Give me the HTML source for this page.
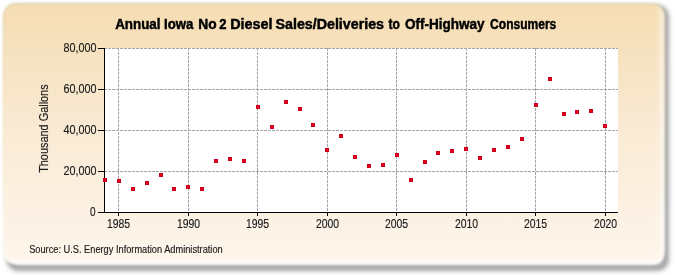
<!DOCTYPE html>
<html><head><meta charset="utf-8"><style>
html,body{margin:0;padding:0;background:#fff;width:675px;height:275px;overflow:hidden}
svg{display:block;will-change:transform}
text{font-family:"Liberation Sans",sans-serif;fill:#1a1a1a;stroke:#1a1a1a;stroke-width:0.15}
</style></head><body>
<svg width="675" height="275" viewBox="0 0 675 275">
<defs>
<linearGradient id="bg" x1="0" y1="0" x2="0" y2="1">
<stop offset="0" stop-color="#F5DDB2"/>
<stop offset="0.45" stop-color="#F9E9D2"/>
<stop offset="1" stop-color="#FEF6EC"/>
</linearGradient>
<linearGradient id="edge" x1="0" y1="0" x2="0" y2="1">
<stop offset="0" stop-color="#E6D6AE"/>
<stop offset="0.3" stop-color="#F5E2C0"/>
<stop offset="1" stop-color="#FFFDF6"/>
</linearGradient>
<filter id="sh" x="-5%" y="-5%" width="110%" height="110%"><feGaussianBlur stdDeviation="2.4"/></filter>
<filter id="soft" x="-2%" y="-2%" width="104%" height="104%"><feGaussianBlur stdDeviation="0.9"/></filter>
<linearGradient id="rb" x1="0" y1="0" x2="1" y2="0">
<stop offset="0" stop-color="#fff" stop-opacity="0"/>
<stop offset="1" stop-color="#fff" stop-opacity="0.55"/>
</linearGradient>
<linearGradient id="bb" x1="0" y1="0" x2="0" y2="1">
<stop offset="0" stop-color="#fff" stop-opacity="0"/>
<stop offset="1" stop-color="#fff" stop-opacity="0.7"/>
</linearGradient>
<clipPath id="cc"><rect x="3.5" y="4" width="660.5" height="259.5" rx="12"/></clipPath>
</defs>
<rect x="10" y="8.5" width="655.5" height="259" rx="8" fill="none" stroke="#959595" stroke-width="6" filter="url(#sh)"/>
<g filter="url(#soft)">
<rect x="3.5" y="4" width="660.5" height="259.5" rx="12" fill="url(#bg)" stroke="url(#edge)" stroke-width="1.5"/>
<g clip-path="url(#cc)"><rect x="656" y="0" width="8" height="270" fill="url(#rb)"/><rect x="0" y="258" width="670" height="6" fill="url(#bb)"/></g>
</g>

<rect x="104" y="48" width="514" height="164" fill="#fff"/>
<g stroke="#A6A6A6" stroke-width="1" stroke-dasharray="3,1" shape-rendering="crispEdges"><line x1="104" y1="48.5" x2="618" y2="48.5"/><line x1="104" y1="89.5" x2="618" y2="89.5"/><line x1="104" y1="130.5" x2="618" y2="130.5"/><line x1="104" y1="171.5" x2="618" y2="171.5"/><line x1="118.5" y1="48" x2="118.5" y2="212"/><line x1="188.5" y1="48" x2="188.5" y2="212"/><line x1="257.5" y1="48" x2="257.5" y2="212"/><line x1="327.5" y1="48" x2="327.5" y2="212"/><line x1="396.5" y1="48" x2="396.5" y2="212"/><line x1="466.5" y1="48" x2="466.5" y2="212"/><line x1="535.5" y1="48" x2="535.5" y2="212"/><line x1="605.5" y1="48" x2="605.5" y2="212"/></g>
<g stroke="#000" stroke-width="1" shape-rendering="crispEdges"><line x1="104.5" y1="48" x2="104.5" y2="213"/><line x1="104" y1="212.5" x2="618" y2="212.5"/><line x1="98" y1="48.5" x2="104" y2="48.5"/><line x1="98" y1="89.5" x2="104" y2="89.5"/><line x1="98" y1="130.5" x2="104" y2="130.5"/><line x1="98" y1="171.5" x2="104" y2="171.5"/><line x1="98" y1="212.5" x2="104" y2="212.5"/><line x1="118.5" y1="212" x2="118.5" y2="216"/><line x1="188.5" y1="212" x2="188.5" y2="216"/><line x1="257.5" y1="212" x2="257.5" y2="216"/><line x1="327.5" y1="212" x2="327.5" y2="216"/><line x1="396.5" y1="212" x2="396.5" y2="216"/><line x1="466.5" y1="212" x2="466.5" y2="216"/><line x1="535.5" y1="212" x2="535.5" y2="216"/><line x1="605.5" y1="212" x2="605.5" y2="216"/></g>
<g fill="#C8001C" shape-rendering="crispEdges"><rect x="103" y="178" width="4" height="4"/><rect x="104" y="179" width="2" height="2" fill="#E8001E"/><rect x="117" y="179" width="4" height="4"/><rect x="118" y="180" width="2" height="2" fill="#E8001E"/><rect x="131" y="187" width="4" height="4"/><rect x="132" y="188" width="2" height="2" fill="#E8001E"/><rect x="145" y="181" width="4" height="4"/><rect x="146" y="182" width="2" height="2" fill="#E8001E"/><rect x="159" y="173" width="4" height="4"/><rect x="160" y="174" width="2" height="2" fill="#E8001E"/><rect x="172" y="187" width="4" height="4"/><rect x="173" y="188" width="2" height="2" fill="#E8001E"/><rect x="186" y="185" width="4" height="4"/><rect x="187" y="186" width="2" height="2" fill="#E8001E"/><rect x="200" y="187" width="4" height="4"/><rect x="201" y="188" width="2" height="2" fill="#E8001E"/><rect x="214" y="159" width="4" height="4"/><rect x="215" y="160" width="2" height="2" fill="#E8001E"/><rect x="228" y="157" width="4" height="4"/><rect x="229" y="158" width="2" height="2" fill="#E8001E"/><rect x="242" y="159" width="4" height="4"/><rect x="243" y="160" width="2" height="2" fill="#E8001E"/><rect x="256" y="105" width="4" height="4"/><rect x="257" y="106" width="2" height="2" fill="#E8001E"/><rect x="270" y="125" width="4" height="4"/><rect x="271" y="126" width="2" height="2" fill="#E8001E"/><rect x="284" y="100" width="4" height="4"/><rect x="285" y="101" width="2" height="2" fill="#E8001E"/><rect x="298" y="107" width="4" height="4"/><rect x="299" y="108" width="2" height="2" fill="#E8001E"/><rect x="311" y="123" width="4" height="4"/><rect x="312" y="124" width="2" height="2" fill="#E8001E"/><rect x="325" y="148" width="4" height="4"/><rect x="326" y="149" width="2" height="2" fill="#E8001E"/><rect x="339" y="134" width="4" height="4"/><rect x="340" y="135" width="2" height="2" fill="#E8001E"/><rect x="353" y="155" width="4" height="4"/><rect x="354" y="156" width="2" height="2" fill="#E8001E"/><rect x="367" y="164" width="4" height="4"/><rect x="368" y="165" width="2" height="2" fill="#E8001E"/><rect x="381" y="163" width="4" height="4"/><rect x="382" y="164" width="2" height="2" fill="#E8001E"/><rect x="395" y="153" width="4" height="4"/><rect x="396" y="154" width="2" height="2" fill="#E8001E"/><rect x="409" y="178" width="4" height="4"/><rect x="410" y="179" width="2" height="2" fill="#E8001E"/><rect x="423" y="160" width="4" height="4"/><rect x="424" y="161" width="2" height="2" fill="#E8001E"/><rect x="436" y="151" width="4" height="4"/><rect x="437" y="152" width="2" height="2" fill="#E8001E"/><rect x="450" y="149" width="4" height="4"/><rect x="451" y="150" width="2" height="2" fill="#E8001E"/><rect x="464" y="147" width="4" height="4"/><rect x="465" y="148" width="2" height="2" fill="#E8001E"/><rect x="478" y="156" width="4" height="4"/><rect x="479" y="157" width="2" height="2" fill="#E8001E"/><rect x="492" y="148" width="4" height="4"/><rect x="493" y="149" width="2" height="2" fill="#E8001E"/><rect x="506" y="145" width="4" height="4"/><rect x="507" y="146" width="2" height="2" fill="#E8001E"/><rect x="520" y="137" width="4" height="4"/><rect x="521" y="138" width="2" height="2" fill="#E8001E"/><rect x="534" y="103" width="4" height="4"/><rect x="535" y="104" width="2" height="2" fill="#E8001E"/><rect x="548" y="77" width="4" height="4"/><rect x="549" y="78" width="2" height="2" fill="#E8001E"/><rect x="562" y="112" width="4" height="4"/><rect x="563" y="113" width="2" height="2" fill="#E8001E"/><rect x="575" y="110" width="4" height="4"/><rect x="576" y="111" width="2" height="2" fill="#E8001E"/><rect x="589" y="109" width="4" height="4"/><rect x="590" y="110" width="2" height="2" fill="#E8001E"/><rect x="603" y="124" width="4" height="4"/><rect x="604" y="125" width="2" height="2" fill="#E8001E"/></g>
<text x="115.17" y="29" font-size="14" font-weight="bold" style="fill:#000;stroke:#000;stroke-width:0.45" textLength="45.38" lengthAdjust="spacingAndGlyphs">Annual</text><text x="164.01" y="29" font-size="14" font-weight="bold" style="fill:#000;stroke:#000;stroke-width:0.45" textLength="29.31" lengthAdjust="spacingAndGlyphs">Iowa</text><text x="198.27" y="29" font-size="14" font-weight="bold" style="fill:#000;stroke:#000;stroke-width:0.45" textLength="18.37" lengthAdjust="spacingAndGlyphs">No</text><text x="219.14" y="29" font-size="14" font-weight="bold" style="fill:#000;stroke:#000;stroke-width:0.45" textLength="7.28" lengthAdjust="spacingAndGlyphs">2</text><text x="230.23" y="29" font-size="14" font-weight="bold" style="fill:#000;stroke:#000;stroke-width:0.45" textLength="42.38" lengthAdjust="spacingAndGlyphs">Diesel</text><text x="275.59" y="29" font-size="14" font-weight="bold" style="fill:#000;stroke:#000;stroke-width:0.45" textLength="108.39" lengthAdjust="spacingAndGlyphs">Sales/Deliveries</text><text x="388.45" y="29" font-size="14" font-weight="bold" style="fill:#000;stroke:#000;stroke-width:0.45" textLength="11.43" lengthAdjust="spacingAndGlyphs">to</text><text x="404.95" y="29" font-size="14" font-weight="bold" style="fill:#000;stroke:#000;stroke-width:0.45" textLength="79.62" lengthAdjust="spacingAndGlyphs">Off-Highway</text><text x="490.11" y="29" font-size="14" font-weight="bold" style="fill:#000;stroke:#000;stroke-width:0.45" textLength="66.19" lengthAdjust="spacingAndGlyphs">Consumers</text><text x="96.5" y="52" text-anchor="end" font-size="12" textLength="33" lengthAdjust="spacingAndGlyphs">80,000</text><text x="96.5" y="93" text-anchor="end" font-size="12" textLength="33" lengthAdjust="spacingAndGlyphs">60,000</text><text x="96.5" y="134" text-anchor="end" font-size="12" textLength="33" lengthAdjust="spacingAndGlyphs">40,000</text><text x="96.5" y="175" text-anchor="end" font-size="12" textLength="33" lengthAdjust="spacingAndGlyphs">20,000</text><text x="95.5" y="216" text-anchor="end" font-size="12" textLength="5.6" lengthAdjust="spacingAndGlyphs">0</text><text x="118.5" y="227.5" text-anchor="middle" font-size="12" textLength="23.2" lengthAdjust="spacingAndGlyphs">1985</text><text x="188.5" y="227.5" text-anchor="middle" font-size="12" textLength="23.2" lengthAdjust="spacingAndGlyphs">1990</text><text x="257.5" y="227.5" text-anchor="middle" font-size="12" textLength="23.2" lengthAdjust="spacingAndGlyphs">1995</text><text x="327.5" y="227.5" text-anchor="middle" font-size="12" textLength="23.2" lengthAdjust="spacingAndGlyphs">2000</text><text x="396.5" y="227.5" text-anchor="middle" font-size="12" textLength="23.2" lengthAdjust="spacingAndGlyphs">2005</text><text x="466.5" y="227.5" text-anchor="middle" font-size="12" textLength="23.2" lengthAdjust="spacingAndGlyphs">2010</text><text x="535.5" y="227.5" text-anchor="middle" font-size="12" textLength="23.2" lengthAdjust="spacingAndGlyphs">2015</text><text x="605.5" y="227.5" text-anchor="middle" font-size="12" textLength="23.2" lengthAdjust="spacingAndGlyphs">2020</text><text transform="translate(47.7,128.6) rotate(-90)" text-anchor="middle" font-size="12" textLength="88.5" lengthAdjust="spacingAndGlyphs">Thousand Gallons</text><text x="29.2" y="253.3" font-size="10" textLength="193.5" lengthAdjust="spacingAndGlyphs">Source: U.S. Energy Information Administration</text>
</svg></body></html>
